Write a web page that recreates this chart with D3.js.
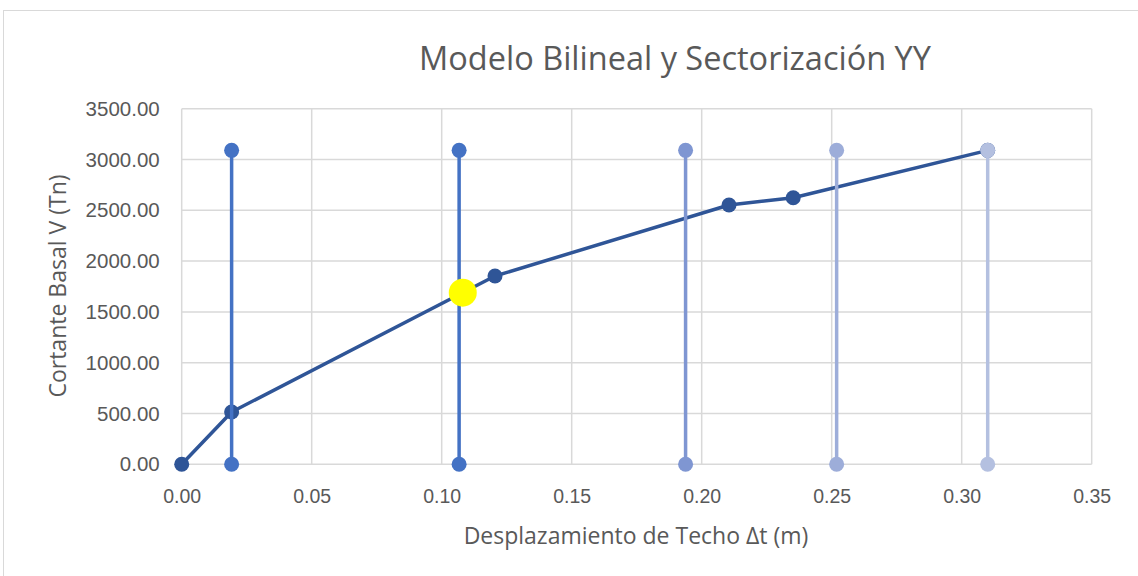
<!DOCTYPE html>
<html><head><meta charset="utf-8">
<script src="https://cdn.jsdelivr.net/npm/d3@7"></script>
<style>body{margin:0;background:#fff;}svg{display:block;font-family:"Open Sans","Liberation Sans",sans-serif;}</style>
</head><body><svg id="c" width="1138" height="576"></svg>
<script>
const title = "Modelo Bilineal y Sectorización YY";
const xLabel = "Desplazamiento de Techo Δt (m)";
const yLabel = "Cortante Basal V (Tn)";
const xTicks = [0,0.05,0.10,0.15,0.20,0.25,0.30,0.35];
const yTicks = [0,500,1000,1500,2000,2500,3000,3500];
const curveX = [0,0.0192,0.1205,0.2105,0.2352,0.31];
const curveV = [0,515,1853,2552,2624,3090];
const sectorX = [0.0192,0.1067,0.1938,0.2519,0.31];
const sectorTop = [3090,3090,3090,3090,3090];
const sectorColors = ["#4472C4","#4472C4","#7F96D2","#9DADD9","#B4C0E0"];
const pointX = [0.1081];
const pointV = [1689];

const svg = d3.select("#c");
const m = {l:181.7, r:1091.7, t:108.7, b:464.3};
const x = d3.scaleLinear().domain([0,0.35]).range([m.l,m.r]);
const y = d3.scaleLinear().domain([0,3500]).range([m.b,m.t]);

svg.append("rect").attr("x",3.5).attr("y",10.5).attr("width",1140).attr("height",570)
  .attr("fill","#fff").attr("stroke","#d9d9d9");

// grid
svg.append("g").selectAll("line").data(yTicks).join("line")
  .attr("x1",m.l).attr("x2",m.r).attr("y1",d=>y(d)).attr("y2",d=>y(d))
  .attr("stroke","#d9d9d9").attr("stroke-width",1.5);
svg.append("g").selectAll("line").data(xTicks).join("line")
  .attr("y1",m.t).attr("y2",m.b).attr("x1",d=>x(d)).attr("x2",d=>x(d))
  .attr("stroke","#d9d9d9").attr("stroke-width",1.5);

// axes
const xa = svg.append("g").attr("transform",`translate(0,${m.b})`)
  .call(d3.axisBottom(x).tickValues(xTicks).tickFormat(d3.format(".2f")).tickSize(0).tickPadding(25));
xa.select(".domain").remove();
xa.selectAll("text").attr("fill","#595959").attr("font-size",19.5);
const ya = svg.append("g").attr("transform",`translate(${m.l},0)`)
  .call(d3.axisLeft(y).tickValues(yTicks).tickFormat(d3.format(".2f")).tickSize(0).tickPadding(22));
ya.select(".domain").remove();
ya.selectAll("text").attr("fill","#595959").attr("font-size",20.5);

// curve
const line = d3.line().x(d=>x(d[0])).y(d=>y(d[1]));
const cdata = curveX.map((d,i)=>[d,curveV[i]]);
svg.append("path").datum(cdata).attr("d",line).attr("fill","none")
  .attr("stroke","#2F5597").attr("stroke-width",3.5).attr("stroke-linejoin","round");
svg.append("g").selectAll("circle").data(cdata).join("circle")
  .attr("cx",d=>x(d[0])).attr("cy",d=>y(d[1])).attr("r",7.5).attr("fill","#2F5597");

// sectors
sectorX.forEach((sx,i)=>{
  const g = svg.append("g");
  g.append("line").attr("x1",x(sx)).attr("x2",x(sx)).attr("y1",y(0)).attr("y2",y(sectorTop[i]))
    .attr("stroke",sectorColors[i]).attr("stroke-width",3.5);
  g.selectAll("circle").data([0,sectorTop[i]]).join("circle")
    .attr("cx",x(sx)).attr("cy",d=>y(d)).attr("r",7.5).attr("fill",sectorColors[i]);
});

// yellow point
svg.append("g").selectAll("circle").data(pointX.map((d,i)=>[d,pointV[i]])).join("circle")
  .attr("cx",d=>x(d[0])).attr("cy",d=>y(d[1])).attr("r",14).attr("fill","#FFFF00");

// titles
svg.append("text").attr("x",675).attr("y",70).attr("text-anchor","middle")
  .attr("font-size",32.5).attr("fill","#595959").text(title);
svg.append("text").attr("x",636).attr("y",544).attr("text-anchor","middle")
  .attr("font-size",23).attr("fill","#595959").text(xLabel);
svg.append("text").attr("transform","translate(66,286) rotate(-90)").attr("text-anchor","middle")
  .attr("font-size",23).attr("fill","#595959").text(yLabel);
</script></body></html>
